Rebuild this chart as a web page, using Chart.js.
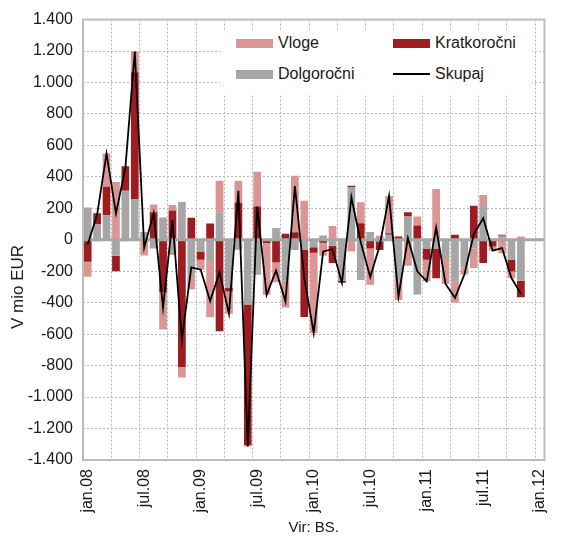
<!DOCTYPE html>
<html>
<head>
<meta charset="utf-8">
<script src="https://cdn.jsdelivr.net/npm/chart.js@4"></script>
<style>
  body { margin: 0; background: #fff; }
  #wrap { position: relative; width: 568px; height: 541px; font-family: "Liberation Sans", Arial, sans-serif; color: #1a1a1a; }
  #ytitle { position: absolute; left: 18px; top: 287px; transform: translate(-50%, -50%) rotate(-90deg); font-size: 17px; white-space: nowrap; }
  #legend { position: absolute; left: 220px; top: 30px; width: 312px; height: 64px; background: #fff; font-size: 16px; }
  .it { position: absolute; display: flex; align-items: center; }
  .sw { width: 37px; height: 9px; margin-right: 5px; }
  .ln { width: 37px; height: 2px; background: #000; margin-right: 5px; }
</style>
</head>
<body>
<div id="wrap">
  <canvas id="c" width="568" height="541"></canvas>
  <div id="ytitle">V mio EUR</div>
  <div id="legend">
    <div class="it" style="left:16px;top:4px"><div class="sw" style="background:#D99694"></div>Vloge</div>
    <div class="it" style="left:173px;top:4px"><div class="sw" style="background:#9E1B20"></div>Kratkoročni</div>
    <div class="it" style="left:16px;top:35px"><div class="sw" style="background:#A6A6A6"></div>Dolgoročni</div>
    <div class="it" style="left:173px;top:35px"><div class="ln"></div>Skupaj</div>
  </div>
</div>
<script>
// mesečni podatki, jan.08 – nov.11 (dec.11 in jan.12 prazno)
const months = ['jan','feb','mar','apr','maj','jun','jul','avg','sep','okt','nov','dec'];
const labels = [];
for (let y = 8; y <= 12; y++) {
  for (let m = 0; m < 12; m++) {
    if (y === 12 && m > 0) break;
    labels.push(months[m] + '.' + String(y).padStart(2, '0'));
  }
}

const dolgorocni = [205, 97, 158, -101, 312, 260, 50, -55, 141, -97, 241, -230,
  -74, -129, 175, -306, -63, -411, -222, 0, 75, -260, -65, -65,
  -48, 27, -38, -260, 333, -255, 49, -10, 32, -260, 148, -348,
  -59, -59, -116, -264, -175, -55, 222, 0, 25, -129, -260, null, null];
const kratkorocni = [-140, 72, 179, -99, 156, 806, 0, 175, -333, 186, -808, 140,
  -53, 103, -582, -23, 236, -893, 211, -20, -145, 38, 48, -426,
  -34, -19, -110, -13, 11, 105, -55, -55, 10, 21, 27, 91,
  -68, -186, 0, 32, 0, 217, -148, -42, 7, -72, -105, null, null];
const vloge = [-95, -10, 211, 367, -10, 131, -100, 49, -238, 36, -68, -85,
  -63, -363, 200, -141, 139, -10, 222, -330, -125, -170, 359, 249,
  -510, -82, 88, 0, -74, 133, -230, 25, 236, -122, -165, 57,
  -137, 323, -165, -137, -46, -125, 63, -27, -85, -42, 21, null, null];
const skupaj = [-30, 160, 548, 167, 458, 1197, -50, 169, -430, 125, -635, -175,
  -190, -389, -207, -470, 312, -1314, 211, -350, -195, -392, 342, -242,
  -592, -74, -60, -273, 270, -17, -236, -40, 278, -361, 10, -200,
  -264, 78, -281, -369, -221, 37, 137, -69, -53, -243, -344, null, null];

const yMin = -1400, yMax = 1400, yStep = 200;

function fmt(v) {
  const s = Math.abs(v).toString().replace(/\B(?=(\d{3})+(?!\d))/g, '.');
  return (v < 0 ? '-' : '') + s;
}

const frame = {
  id: 'frame',
  beforeDatasetDraw(chart, args) {
    if (args.meta.type !== 'line') return;
    const { ctx, chartArea: a, scales } = chart;
    const y0 = scales.y.getPixelForValue(0);
    ctx.save();
    ctx.strokeStyle = '#A6A6A6';
    ctx.lineWidth = 3;
    ctx.beginPath();
    ctx.moveTo(a.left, y0);
    ctx.lineTo(a.right, y0);
    ctx.stroke();
    ctx.restore();
  },
  afterDraw(chart) {
    const { ctx, chartArea: a } = chart;
    ctx.save();
    ctx.strokeStyle = '#BDBDBD';
    ctx.lineWidth = 2;
    ctx.strokeRect(a.left, a.top, a.right - a.left, a.bottom - a.top);
    ctx.restore();
  }
};

new Chart(document.getElementById('c'), {
  data: {
    labels: labels,
    datasets: [
      { type: 'line', label: 'Skupaj', data: skupaj, borderColor: '#000', borderWidth: 1.8,
        pointRadius: 0, tension: 0, order: 0, spanGaps: false },
      { type: 'bar', label: 'Dolgoročni', data: dolgorocni, backgroundColor: '#A6A6A6', order: 1, stack: 's' },
      { type: 'bar', label: 'Kratkoročni', data: kratkorocni, backgroundColor: '#9E1B20', order: 1, stack: 's' },
      { type: 'bar', label: 'Vloge', data: vloge, backgroundColor: '#D99694', order: 1, stack: 's' }
    ]
  },
  options: {
    responsive: false,
    animation: false,
    layout: { padding: { top: 17, right: 8, left: 0, bottom: 4 } },
    datasets: { bar: { categoryPercentage: 1, barPercentage: 0.82 } },
    plugins: { legend: { display: false }, tooltip: { enabled: false } },
    scales: {
      x: {
        stacked: true,
        offset: true,
        grid: {
          offset: true,
          drawTicks: false,
          color: c => (c.index % 3 === 0 ? '#B5B5B5' : 'rgba(0,0,0,0)'),
          lineWidth: 1
        },
        border: { display: false, dash: [2, 2] },
        ticks: {
          autoSkip: false,
          maxRotation: 90,
          minRotation: 90,
          padding: 9,
          color: '#1a1a1a',
          font: { family: '"Liberation Sans", Arial, sans-serif', size: 16 },
          callback: function (v, i) { return i % 6 === 0 ? this.getLabelForValue(v) : ''; }
        },
        title: { display: true, text: 'Vir: BS.', color: '#1a1a1a',
          font: { family: '"Liberation Sans", Arial, sans-serif', size: 15 }, padding: { top: 3, bottom: 0 } },
        afterFit: s => { s.height = 77; }
      },
      y: {
        stacked: true,
        min: yMin,
        max: yMax,
        grid: { color: '#B5B5B5', lineWidth: 1, drawTicks: false },
        border: { display: false, dash: [2, 2] },
        ticks: {
          stepSize: yStep,
          padding: 10,
          color: '#1a1a1a',
          font: { family: '"Liberation Sans", Arial, sans-serif', size: 16 },
          callback: v => fmt(v)
        },
        afterFit: s => { s.width = 83; }
      }
    }
  },
  plugins: [frame]
});
</script>
</body>
</html>
